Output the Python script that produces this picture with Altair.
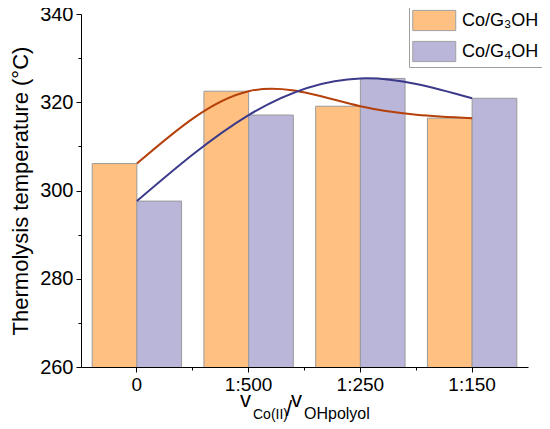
import altair as alt
import pandas as pd

categories = ["0", "1:500", "1:250", "1:150"]
series_names = ["Co/G\u2083OH", "Co/G\u2084OH"]
g3_values = [306.1, 322.5, 319.1, 316.4]
g4_values = [297.6, 317.1, 325.4, 320.9]
y_ticks = [260, 270, 280, 290, 300, 310, 320, 330, 340]

bar_colors = ["#FFC081", "#BAB6DA"]
line_colors = ["#B5400A", "#3B3A8A"]
FONT = "Liberation Sans"

rows = []
for c, a, b in zip(categories, g3_values, g4_values):
    rows.append({"cat": c, "series": series_names[0], "temp": a})
    rows.append({"cat": c, "series": series_names[1], "temp": b})
df = pd.DataFrame(rows)

x_enc = alt.X(
    "cat:N",
    sort=categories,
    scale=alt.Scale(paddingInner=0.2, paddingOuter=0.1),
    axis=alt.Axis(
        title=None, labelAngle=0, labelFontSize=19, labelFont=FONT,
        labelColor="black", tickSize=5, tickColor="black", domainColor="black",
        labelPadding=3, ticks=True, orient="bottom",
    ),
)
y_enc = alt.Y(
    "temp:Q",
    scale=alt.Scale(domain=[260, 340], nice=False, zero=False),
    axis=alt.Axis(
        title="Thermolysis temperature (\u00b0C)", titleFontSize=22, titleFont=FONT,
        titleFontWeight="normal", titleColor="black", titlePadding=7,
        values=y_ticks,
        labelExpr="datum.value % 20 === 0 ? datum.label : ''",
        labelFontSize=20, labelFont=FONT, labelColor="black", labelPadding=3,
        tickSize={"condition": {"test": "datum.value % 20 === 0", "value": 5}, "value": 3},
        tickColor="black", domainColor="black", grid=False,
    ),
)

base = alt.Chart(df)

bars = base.mark_bar(stroke="#9A9A9A", strokeWidth=1, clip=True).encode(
    x=x_enc,
    xOffset=alt.XOffset("series:N", sort=series_names, scale=alt.Scale(paddingInner=0, paddingOuter=0)),
    y=y_enc,
    color=alt.Color(
        "series:N",
        scale=alt.Scale(domain=series_names, range=bar_colors),
        legend=alt.Legend(
            title=None, orient="none", legendX=328, legendY=-8,
            strokeColor="#A0A0A0", padding=3, fillColor="white",
            symbolType="M-1,-0.94H3V0.94H-1Z", symbolSize=462,
            symbolStrokeColor="#A0A0A0", symbolStrokeWidth=1, symbolOpacity=1,
            labelFontSize=18, labelFont=FONT, labelColor="black", labelOffset=27,
            rowPadding=6, labelLimit=200,
        ),
    ),
)

# minor x ticks halfway between categories
minor_x_axis = alt.Axis(
    title=None, labels=False, domain=False, ticks=True, tickSize=3,
    tickColor="black", bandPosition=1.125, values=categories[:3], grid=False,
    orient="bottom",
)

line3 = base.transform_filter(alt.datum.series == series_names[0]).mark_line(
    color=line_colors[0], strokeWidth=2, interpolate="natural"
).encode(x=alt.X("cat:N", sort=categories, axis=minor_x_axis), y="temp:Q")
line4 = base.transform_filter(alt.datum.series == series_names[1]).mark_line(
    color=line_colors[1], strokeWidth=2, interpolate="natural"
).encode(x=alt.X("cat:N", sort=categories, axis=None), y="temp:Q")

# x-axis title with subscripts: v_Co(II)/v_OHpolyol
title_parts = [
    ("v", 159, 393, 22),
    ("Co(II)", 172, 405, 14),
    ("/", 205, 402, 22),
    ("v", 210, 393, 22),
    ("OHpolyol", 223, 405, 16),
]
title_layers = []
for txt, px, py, fs in title_parts:
    title_layers.append(
        alt.Chart(pd.DataFrame({"t": [txt]})).mark_text(
            align="left", baseline="alphabetic", fontSize=fs, font=FONT, color="black"
        ).encode(text="t:N", x=alt.value(px), y=alt.value(py))
    )

chart = alt.layer(bars, line3, line4, *title_layers).resolve_axis(
    x="independent"
).properties(
    width=447, height=353,
    autosize=alt.AutoSizeParams(type="none"),
    padding={"left": 73, "top": 6, "right": 14, "bottom": 60},
).configure_view(stroke=None)

chart.save("out.html", embed_options={"renderer": "svg", "actions": False})
